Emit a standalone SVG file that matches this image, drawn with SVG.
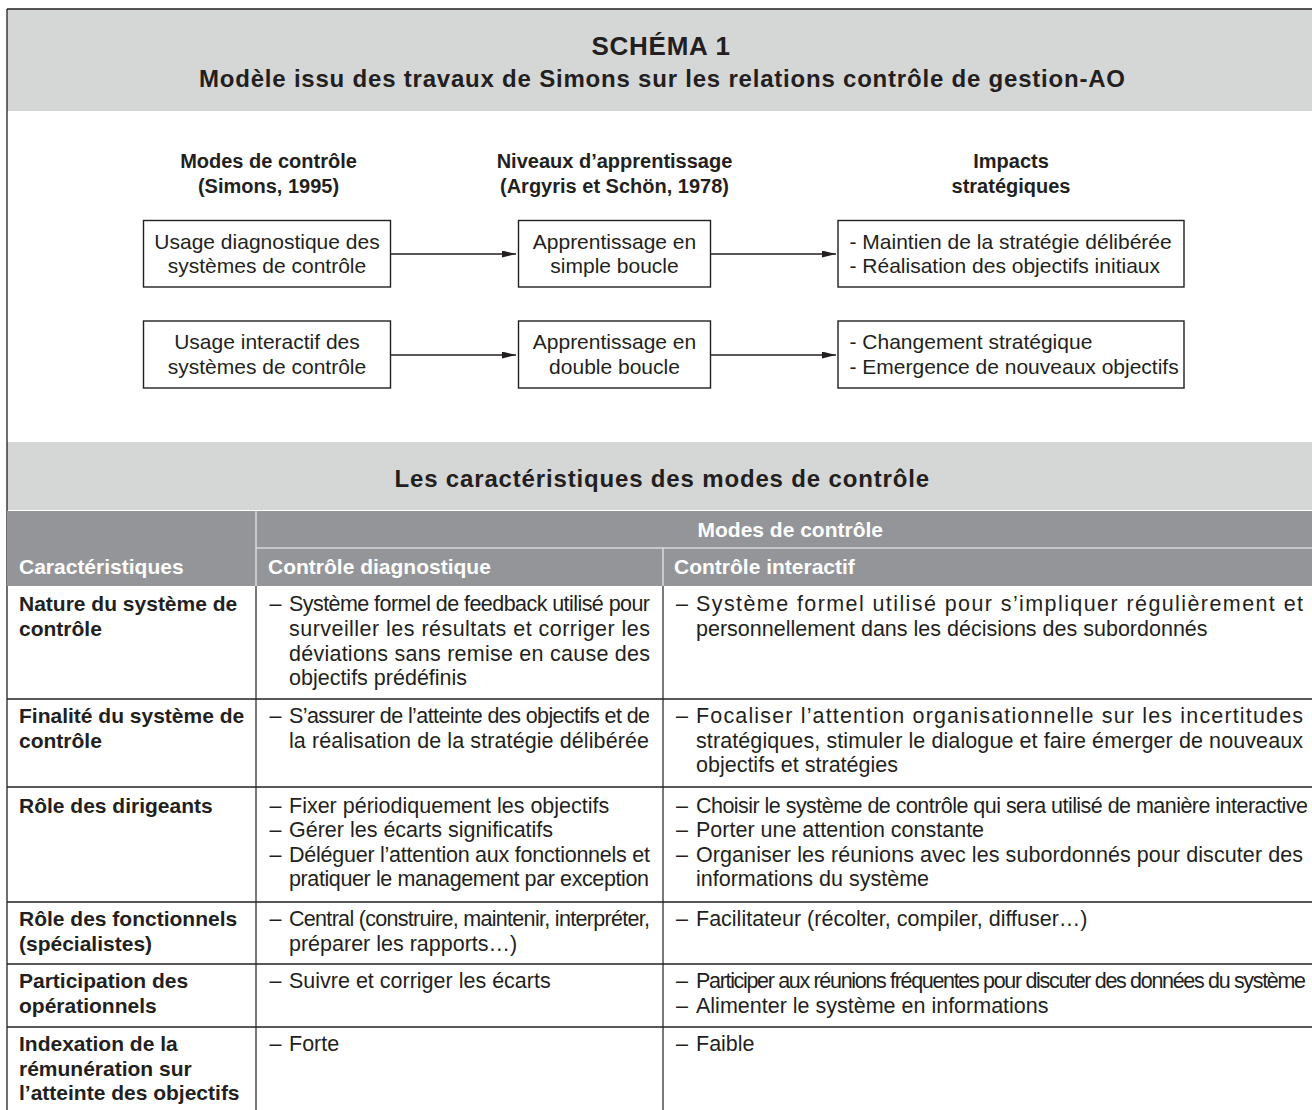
<svg xmlns="http://www.w3.org/2000/svg" width="1312" height="1110" viewBox="0 0 1312 1110">
<style>
text { font-family: "Liberation Sans", Arial, sans-serif; fill: #231f20; }
.t1 { font-size: 26px; font-weight: bold; }
.t2 { font-size: 24px; font-weight: bold; }
.h { font-size: 20px; font-weight: bold; text-anchor: middle; }
.bx { font-size: 21px; }
.mid { text-anchor: middle; }
.box { fill: #ffffff; stroke: #231f20; stroke-width: 1.4; }
.conn { stroke: #231f20; stroke-width: 1.4; fill: none; }
.th { font-size: 21px; font-weight: bold; fill: #ffffff; }
.k { font-size: 21px; font-weight: bold; }
.v { font-size: 21.5px; }
.rule { stroke: #231f20; stroke-width: 1.3; }
.vdiv { stroke: #58595b; stroke-width: 1.6; }
.hdiv { stroke: #d6d7d7; stroke-width: 1.6; }
.band { fill: #d5d6d6; }
.dark { fill: #939598; }
</style>
<defs>
<marker id="ah" markerUnits="userSpaceOnUse" markerWidth="15" markerHeight="8" refX="14" refY="3.5" orient="auto">
<path d="M0,0 L14,3.5 L0,7 Z" fill="#231f20"/>
</marker>
</defs>

<rect x="0" y="0" width="1312" height="1110" fill="#ffffff"/>

<g id="frame">
<rect class="band" x="7" y="9" width="1305" height="102"/>
<rect class="band" x="7" y="442" width="1305" height="68"/>
<line class="rule" x1="7" y1="9" x2="1312" y2="9"/>
<line class="rule" x1="7" y1="9" x2="7" y2="1110"/>
</g>

<g id="title">
<text class="t1" x="591.5" y="55" textLength="138.5">SCHÉMA 1</text>
<text class="t2" x="199" y="87" textLength="926">Modèle issu des travaux de Simons sur les relations contrôle de gestion-AO</text>
</g>

<g id="column-headers">
<text class="h" x="268.5" y="168">Modes de contrôle</text>
<text class="h" x="268.5" y="193">(Simons, 1995)</text>
<text class="h" x="614.5" y="168">Niveaux d’apprentissage</text>
<text class="h" x="614.5" y="193">(Argyris et Schön, 1978)</text>
<text class="h" x="1011" y="168">Impacts</text>
<text class="h" x="1011" y="193">stratégiques</text>
</g>

<g id="n-diag">
<rect class="box" x="143.5" y="220.5" width="247" height="66.5"/>
<text class="bx mid" x="267" y="248.5">Usage diagnostique des</text>
<text class="bx mid" x="267" y="273">systèmes de contrôle</text>
</g>
<g id="n-inter">
<rect class="box" x="143.5" y="321" width="247" height="67"/>
<text class="bx mid" x="267" y="349">Usage interactif des</text>
<text class="bx mid" x="267" y="373.5">systèmes de contrôle</text>
</g>
<g id="n-simple">
<rect class="box" x="518.5" y="220.5" width="192" height="66.5"/>
<text class="bx mid" x="614.5" y="248.5">Apprentissage en</text>
<text class="bx mid" x="614.5" y="273">simple boucle</text>
</g>
<g id="n-double">
<rect class="box" x="518.5" y="321" width="192" height="67"/>
<text class="bx mid" x="614.5" y="349">Apprentissage en</text>
<text class="bx mid" x="614.5" y="373.5">double boucle</text>
</g>
<g id="n-impact1">
<rect class="box" x="838" y="220.5" width="346" height="66.5"/>
<text class="bx" x="849.5" y="248.5">- Maintien de la stratégie délibérée</text>
<text class="bx" x="849.5" y="273">- Réalisation des objectifs initiaux</text>
</g>
<g id="n-impact2">
<rect class="box" x="838" y="321" width="346" height="67"/>
<text class="bx" x="849.5" y="349">- Changement stratégique</text>
<text class="bx" x="849.5" y="373.5">- Emergence de nouveaux objectifs</text>
</g>

<g id="connectors">
<line class="conn" x1="390.5" y1="254" x2="516" y2="254" marker-end="url(#ah)"/>
<line class="conn" x1="390.5" y1="355" x2="516" y2="355" marker-end="url(#ah)"/>
<line class="conn" x1="710.5" y1="254" x2="836" y2="254" marker-end="url(#ah)"/>
<line class="conn" x1="710.5" y1="355" x2="836" y2="355" marker-end="url(#ah)"/>
</g>

<g id="table-title">
<text class="t2" x="394.5" y="487" textLength="534.5">Les caractéristiques des modes de contrôle</text>
</g>

<g id="table-header">
<rect class="dark" x="7" y="511" width="1305" height="75"/>
<line class="hdiv" x1="256" y1="511" x2="256" y2="586"/>
<line class="hdiv" x1="256" y1="548" x2="1312" y2="548"/>
<line class="hdiv" x1="663" y1="548" x2="663" y2="586"/>
<text class="th" x="697.5" y="537">Modes de contrôle</text>
<text class="th" x="19" y="574">Caractéristiques</text>
<text class="th" x="268" y="574">Contrôle diagnostique</text>
<text class="th" x="674" y="574">Contrôle interactif</text>
</g>

<g id="table-grid">
<line class="vdiv" x1="256" y1="586" x2="256" y2="1110"/>
<line class="vdiv" x1="663" y1="586" x2="663" y2="1110"/>
<line class="rule" x1="7" y1="699" x2="1312" y2="699"/>
<line class="rule" x1="7" y1="787" x2="1312" y2="787"/>
<line class="rule" x1="7" y1="902" x2="1312" y2="902"/>
<line class="rule" x1="7" y1="964" x2="1312" y2="964"/>
<line class="rule" x1="7" y1="1027" x2="1312" y2="1027"/>
</g>

<g id="row-nature">
<text class="k" x="19" y="611">Nature du système de</text>
<text class="k" x="19" y="636">contrôle</text>
<text class="v" x="269.5" y="611">–</text>
<text class="v" x="289" y="611" textLength="361">Système formel de feedback utilisé pour</text>
<text class="v" x="289" y="636" textLength="361">surveiller les résultats et corriger les</text>
<text class="v" x="289" y="660.5" textLength="361">déviations sans remise en cause des</text>
<text class="v" x="289" y="685">objectifs prédéfinis</text>
<text class="v" x="676" y="611">–</text>
<text class="v" x="696" y="611" textLength="607">Système formel utilisé pour s’impliquer régulièrement et</text>
<text class="v" x="696" y="636">personnellement dans les décisions des subordonnés</text>
</g>

<g id="row-finalite">
<text class="k" x="19" y="723">Finalité du système de</text>
<text class="k" x="19" y="748">contrôle</text>
<text class="v" x="269.5" y="723">–</text>
<text class="v" x="289" y="723" textLength="361">S’assurer de l’atteinte des objectifs et de</text>
<text class="v" x="289" y="748" textLength="360">la réalisation de la stratégie délibérée</text>
<text class="v" x="676" y="723">–</text>
<text class="v" x="696" y="723" textLength="607">Focaliser l’attention organisationnelle sur les incertitudes</text>
<text class="v" x="696" y="748" textLength="607">stratégiques, stimuler le dialogue et faire émerger de nouveaux</text>
<text class="v" x="696" y="772">objectifs et stratégies</text>
</g>

<g id="row-dirigeants">
<text class="k" x="19" y="812.5">Rôle des dirigeants</text>
<text class="v" x="269.5" y="812.5">–</text>
<text class="v" x="289" y="812.5">Fixer périodiquement les objectifs</text>
<text class="v" x="269.5" y="837">–</text>
<text class="v" x="289" y="837">Gérer les écarts significatifs</text>
<text class="v" x="269.5" y="861.5">–</text>
<text class="v" x="289" y="861.5" textLength="361">Déléguer l’attention aux fonctionnels et</text>
<text class="v" x="289" y="886" textLength="360">pratiquer le management par exception</text>
<text class="v" x="676" y="812.5">–</text>
<text class="v" x="696" y="812.5" textLength="612">Choisir le système de contrôle qui sera utilisé de manière interactive</text>
<text class="v" x="676" y="837">–</text>
<text class="v" x="696" y="837">Porter une attention constante</text>
<text class="v" x="676" y="861.5">–</text>
<text class="v" x="696" y="861.5" textLength="607">Organiser les réunions avec les subordonnés pour discuter des</text>
<text class="v" x="696" y="886">informations du système</text>
</g>

<g id="row-fonctionnels">
<text class="k" x="19" y="926">Rôle des fonctionnels</text>
<text class="k" x="19" y="951">(spécialistes)</text>
<text class="v" x="269.5" y="926">–</text>
<text class="v" x="289" y="926" textLength="361">Central (construire, maintenir, interpréter,</text>
<text class="v" x="289" y="951">préparer les rapports…)</text>
<text class="v" x="676" y="926">–</text>
<text class="v" x="696" y="926">Facilitateur (récolter, compiler, diffuser…)</text>
</g>

<g id="row-operationnels">
<text class="k" x="19" y="988">Participation des</text>
<text class="k" x="19" y="1013">opérationnels</text>
<text class="v" x="269.5" y="988">–</text>
<text class="v" x="289" y="988">Suivre et corriger les écarts</text>
<text class="v" x="676" y="988">–</text>
<text class="v" x="696" y="988" textLength="610">Participer aux réunions fréquentes pour discuter des données du système</text>
<text class="v" x="676" y="1013">–</text>
<text class="v" x="696" y="1013">Alimenter le système en informations</text>
</g>

<g id="row-indexation">
<text class="k" x="19" y="1051">Indexation de la</text>
<text class="k" x="19" y="1075.5">rémunération sur</text>
<text class="k" x="19" y="1100">l’atteinte des objectifs</text>
<text class="v" x="269.5" y="1051">–</text>
<text class="v" x="289" y="1051">Forte</text>
<text class="v" x="676" y="1051">–</text>
<text class="v" x="696" y="1051">Faible</text>
</g>
</svg>
